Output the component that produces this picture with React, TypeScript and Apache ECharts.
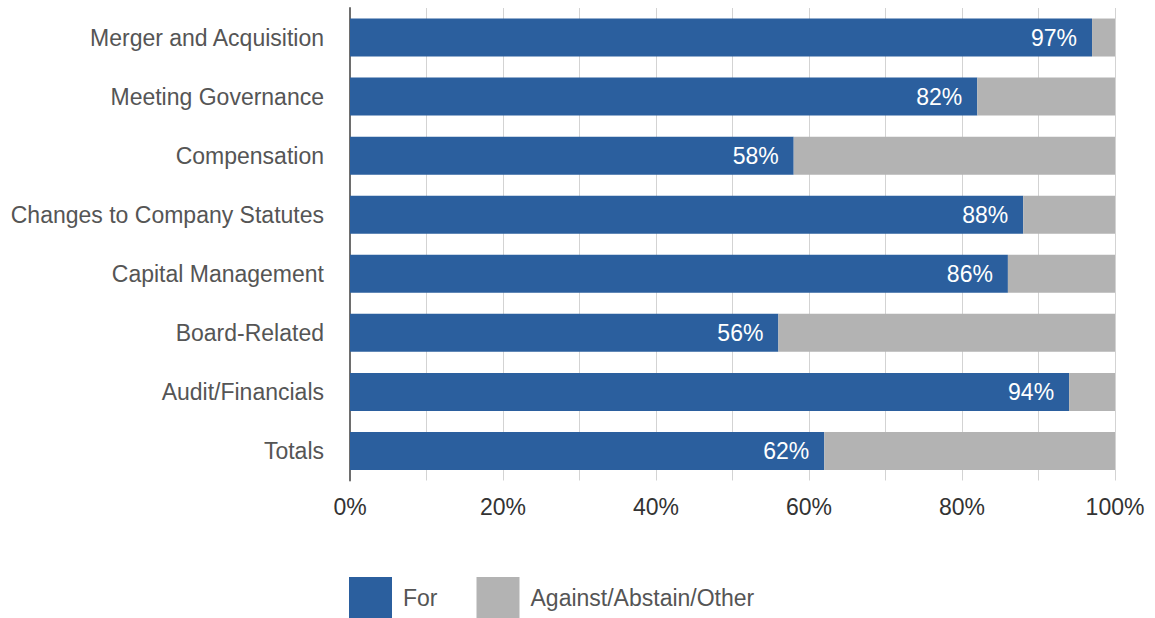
import React, { useEffect, useRef } from "react";
import * as echarts from "echarts";

const categories = [
  "Merger and Acquisition",
  "Meeting Governance",
  "Compensation",
  "Changes to Company Statutes",
  "Capital Management",
  "Board-Related",
  "Audit/Financials",
  "Totals",
];
const forValues = [97, 82, 58, 88, 86, 56, 94, 62];
const againstValues = [3, 18, 42, 12, 14, 44, 6, 38];
const seriesNames = ["For", "Against/Abstain/Other"];

const FONT = "'Liberation Sans', Arial, Helvetica, sans-serif";

export default function App() {
  const ref = useRef<HTMLDivElement>(null);
  useEffect(() => {
    document.body.style.margin = "0";
    const chart = echarts.init(ref.current!, null, { renderer: "svg" });
    chart.setOption({
      animation: false,
      textStyle: { fontFamily: FONT },
      grid: { left: 350, right: 40, top: 8, height: 472.5, containLabel: false },
      legend: {
        left: 344,
        top: 572,
        itemWidth: 43,
        itemHeight: 42,
        itemGap: 39,
        icon: "rect",
        textStyle: { fontSize: 23, color: "#555", fontFamily: FONT, padding: [0, 0, 0, 6] },
        data: seriesNames,
      },
      xAxis: {
        type: "value",
        min: 0,
        max: 100,
        interval: 10,
        axisLine: { show: false },
        axisTick: { show: false },
        splitLine: { show: true, lineStyle: { color: "#d3d3d3", width: 1 } },
        axisLabel: {
          fontSize: 23,
          color: "#333",
          margin: 15,
          fontFamily: FONT,
          formatter: (v: number) => (v % 20 === 0 ? v + "%" : ""),
        },
      },
      yAxis: {
        type: "category",
        data: categories,
        inverse: true,
        axisLine: { show: true, lineStyle: { color: "#6e6e6e", width: 2 } },
        axisTick: { show: false },
        axisLabel: { fontSize: 23, color: "#555", margin: 26, fontFamily: FONT },
      },
      series: [
        {
          name: seriesNames[0],
          type: "bar",
          stack: "total",
          barWidth: 38,
          data: forValues,
          itemStyle: { color: "#2b5f9e" },
          label: {
            show: true,
            position: "insideRight",
            distance: 15,
            color: "#fff",
            fontSize: 23,
            fontFamily: FONT,
            formatter: "{c}%",
          },
        },
        {
          name: seriesNames[1],
          type: "bar",
          stack: "total",
          barWidth: 38,
          data: againstValues,
          itemStyle: { color: "#b3b3b3" },
        },
      ],
    });
    return () => chart.dispose();
  }, []);
  return <div ref={ref} style={{ width: 1155, height: 618 }} />;
}
